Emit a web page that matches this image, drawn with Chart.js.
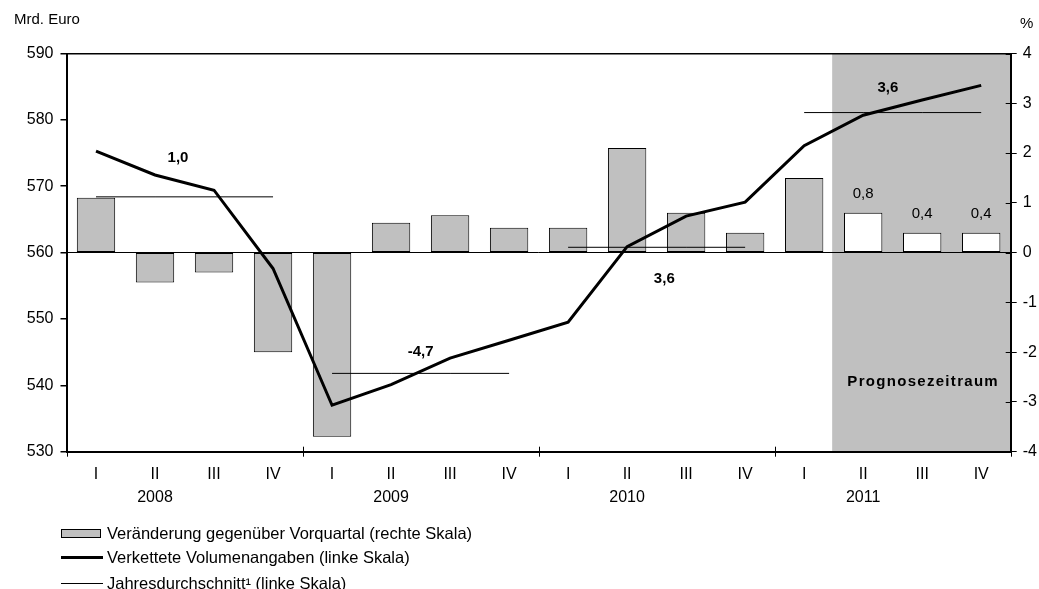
<!DOCTYPE html>
<html lang="de">
<head>
<meta charset="utf-8">
<title>Bruttoinlandsprodukt</title>
<script src="https://cdn.jsdelivr.net/npm/chart.js@4.4.1/dist/chart.umd.min.js"></script>
<style>
    html, body { margin: 0; padding: 0; background: #fff; }
    #wrap { width: 1039px; height: 589px; position: relative; }
</style>
</head>
<body>
<div id="wrap"><canvas id="gdpChart"></canvas></div>
<script>
// Data
const years = ['2008', '2009', '2010', '2011'];
const quarters = ['I', 'II', 'III', 'IV'];

// Veränderung gegenüber Vorquartal in % (rechte Skala)
const changeQoQ = [1.1, -0.6, -0.4, -2.0, -3.7, 0.6, 0.75, 0.5, 0.5, 2.1, 0.8, 0.4, 1.5, 0.8, 0.4, 0.4];

// Verkettete Volumenangaben in Mrd. Euro (linke Skala)
const volume = [575.3, 571.7, 569.4, 557.6, 537.0, 540.1, 544.1, 546.8, 549.5, 560.9, 565.5, 567.6, 576.1, 580.7, 583.0, 585.2];

// Jahresdurchschnitt in Mrd. Euro, one value per quarter (linke Skala)
const yearAverage = [568.4, 568.4, 568.4, 568.4, 541.8, 541.8, 541.8, 541.8, 560.8, 560.8, 560.8, 560.8, 581.1, 581.1, 581.1, 581.1];

// Jahresveränderung in % (printed next to the average lines)
const annualGrowth = ['1,0', '-4,7', '3,6', '3,6'];

// Forecast quarters (Prognosezeitraum) start at this index
const forecastStart = 13;

const leftTicks = [530, 540, 550, 560, 570, 580, 590];
const rightTicks = [-4, -3, -2, -1, 0, 1, 2, 3, 4];

const FONT = '"Liberation Sans", Arial, Helvetica, sans-serif';

// Build the two-line x labels: year printed under quarter II
const labels = [];
years.forEach(year => {
    quarters.forEach(q => {
        labels.push(q === 'II' ? [q, year] : q);
    });
});

const barColors = changeQoQ.map((_, i) => i >= forecastStart ? '#ffffff' : '#c0c0c0');

// Grey background behind the forecast quarters
const forecastShade = {
    id: 'forecastShade',
    beforeDraw(chart) {
        const { ctx, chartArea } = chart;
        const x = chart.scales.x;
        const x0 = x.getPixelForValue(forecastStart - 0.5) - 1.5;
        ctx.save();
        ctx.fillStyle = '#c0c0c0';
        ctx.fillRect(x0, chartArea.top, chartArea.right - x0, chartArea.bottom - chartArea.top);
        ctx.restore();
    }
};

// Texts, crossing ticks and the legend
const extras = {
    id: 'extras',
    afterDraw(chart) {
        const { ctx, chartArea } = chart;
        const x = chart.scales.x;
        const y = chart.scales.y;
        const y2 = chart.scales.y2;

        ctx.save();
        ctx.strokeStyle = '#000';
        ctx.fillStyle = '#000';
        ctx.lineWidth = 1;

        // year separators on the x axis (crossing the axis)
        for (let i = 0; i <= labels.length; i += 4) {
            const px = Math.round(x.getPixelForValue(i - 0.5)) + 0.5;
            ctx.beginPath();
            ctx.moveTo(px, chartArea.bottom - 5);
            ctx.lineTo(px, chartArea.bottom + 5);
            ctx.stroke();
        }

        // inner half of the right axis ticks
        rightTicks.forEach(v => {
            const py = Math.round(y2.getPixelForValue(v)) + 0.5;
            ctx.beginPath();
            ctx.moveTo(chartArea.right - 5, py);
            ctx.lineTo(chartArea.right, py);
            ctx.stroke();
        });

        // axis units
        ctx.font = '15px ' + FONT;
        ctx.textBaseline = 'middle';
        ctx.textAlign = 'left';
        ctx.fillText('Mrd. Euro', 14, 20);
        ctx.fillText('%', 1020, 24);

        // annual growth next to the average lines
        const growthSpots = [
            { idx: 1.39, val: 574.3 },
            { idx: 5.5, val: 545.1 },
            { idx: 9.63, val: 556.0 },
            { idx: 13.42, val: 584.8 }
        ];
        ctx.font = 'bold 15px ' + FONT;
        ctx.textAlign = 'center';
        annualGrowth.forEach((txt, i) => {
            const spot = growthSpots[i];
            ctx.fillText(txt, x.getPixelForValue(spot.idx), y.getPixelForValue(spot.val));
        });

        // values above the forecast bars
        ctx.font = '15px ' + FONT;
        ctx.textBaseline = 'bottom';
        const bars = chart.getDatasetMeta(0).data;
        for (let i = forecastStart; i < changeQoQ.length; i++) {
            const txt = changeQoQ[i].toFixed(1).replace('.', ',');
            ctx.fillText(txt, bars[i].x, bars[i].y - 11);
        }

        // forecast caption
        ctx.font = 'bold 15px ' + FONT;
        ctx.textBaseline = 'middle';
        ctx.letterSpacing = '1.3px';
        ctx.fillText('Prognosezeitraum', x.getPixelForValue(14) + 1, y.getPixelForValue(540.5));
        ctx.letterSpacing = '0px';

        // legend
        const lx = 61, tx = 107;
        ctx.font = '16.5px ' + FONT;
        ctx.textAlign = 'left';
        ctx.textBaseline = 'middle';

        ctx.fillStyle = '#c0c0c0';
        ctx.fillRect(lx, 529, 39, 8.5);
        ctx.strokeRect(lx + 0.5, 529.5, 39, 8);
        ctx.fillStyle = '#000';
        ctx.fillText(chart.data.datasets[0].label, tx, 534);

        ctx.lineWidth = 3;
        ctx.beginPath();
        ctx.moveTo(lx, 557.5);
        ctx.lineTo(lx + 42, 557.5);
        ctx.stroke();
        ctx.fillText(chart.data.datasets[1].label, tx, 558);

        ctx.lineWidth = 1;
        ctx.beginPath();
        ctx.moveTo(lx, 583.5);
        ctx.lineTo(lx + 42, 583.5);
        ctx.stroke();
        ctx.fillText(chart.data.datasets[2].label, tx, 584);

        ctx.restore();
    }
};

document.addEventListener('DOMContentLoaded', function() {
    const ctx = document.getElementById('gdpChart').getContext('2d');

    new Chart(ctx, {
        type: 'bar',
        data: {
            labels: labels,
            datasets: [{
                type: 'bar',
                label: 'Veränderung gegenüber Vorquartal (rechte Skala)',
                data: changeQoQ,
                yAxisID: 'y2',
                backgroundColor: barColors,
                borderColor: '#000',
                borderWidth: 1,
                borderSkipped: false,
                categoryPercentage: 1,
                barPercentage: 0.65,
                order: 3
            }, {
                type: 'line',
                label: 'Verkettete Volumenangaben (linke Skala)',
                data: volume,
                yAxisID: 'y',
                borderColor: '#000',
                borderWidth: 3,
                pointRadius: 0,
                tension: 0,
                order: 1
            }, {
                type: 'line',
                label: 'Jahresdurchschnitt\u00b9 (linke Skala)',
                data: yearAverage,
                yAxisID: 'y',
                borderColor: '#000',
                borderWidth: 1,
                pointRadius: 0,
                tension: 0,
                segment: {
                    // break the line between years
                    borderColor: c => Math.floor(c.p0DataIndex / 4) !== Math.floor(c.p1DataIndex / 4) ? 'transparent' : '#000'
                },
                order: 2
            }]
        },
        options: {
            responsive: true,
            maintainAspectRatio: false,
            animation: false,
            layout: {
                padding: { top: 53.5, left: 0, right: 0, bottom: 0 }
            },
            plugins: {
                legend: { display: false },
                tooltip: { enabled: false },
                title: { display: false }
            },
            scales: {
                x: {
                    type: 'category',
                    offset: true,
                    grid: { display: false, drawTicks: false },
                    border: { display: true, color: '#000', width: 2 },
                    ticks: {
                        color: '#000',
                        font: { family: FONT, size: 16, lineHeight: 1.42 },
                        padding: 12,
                        autoSkip: false,
                        maxRotation: 0
                    },
                    afterFit: scale => { scale.height = 137.3; }
                },
                y: {
                    position: 'left',
                    min: 530,
                    max: 590,
                    afterBuildTicks: scale => { scale.ticks = leftTicks.map(v => ({ value: v })); },
                    grid: {
                        drawOnChartArea: true,
                        color: c => c.tick && c.tick.value === 590 ? '#000' : 'transparent',
                        tickColor: '#000',
                        tickLength: 6,
                        lineWidth: 1.5
                    },
                    border: { display: true, color: '#000', width: 2 },
                    ticks: {
                        color: '#000',
                        font: { family: FONT, size: 16 },
                        padding: 7
                    },
                    afterFit: scale => { scale.width = 66.5; }
                },
                y2: {
                    position: 'right',
                    min: -4,
                    max: 4,
                    afterBuildTicks: scale => { scale.ticks = rightTicks.map(v => ({ value: v })); },
                    grid: {
                        drawOnChartArea: true,
                        color: c => c.tick && c.tick.value === 0 ? '#000' : 'transparent',
                        tickColor: '#000',
                        tickLength: 6,
                        lineWidth: 1
                    },
                    border: { display: true, color: '#000', width: 2 },
                    ticks: {
                        color: '#000',
                        font: { family: FONT, size: 16 },
                        padding: 6
                    },
                    afterFit: scale => { scale.width = 28.3; }
                }
            }
        },
        plugins: [forecastShade, extras]
    });
});
</script>
</body>
</html>
